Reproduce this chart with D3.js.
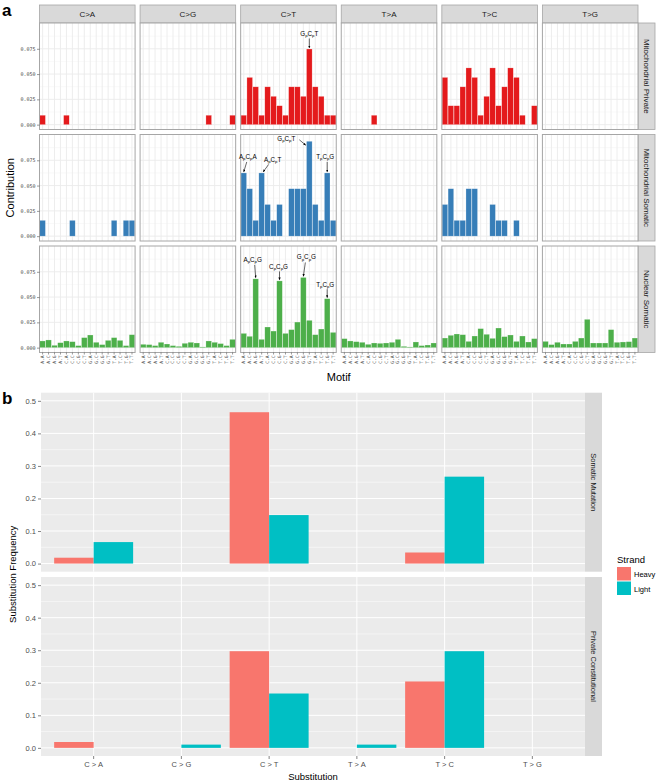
<!DOCTYPE html>
<html>
<head>
<meta charset="utf-8">
<script src="https://cdn.jsdelivr.net/npm/d3@7"></script>
<style>
  body { margin: 0; background: #fff; }
  svg { display: block; }
</style>
</head>
<body>
<div id="chart"></div>
<script>
// ---- panel a data ----
const substitutions = ["C>A", "C>G", "C>T", "T>A", "T>C", "T>G"];
const motifs = ["A.A", "A.C", "A.G", "A.T", "C.A", "C.C", "C.G", "C.T",
                "G.A", "G.C", "G.G", "G.T", "T.A", "T.C", "T.G", "T.T"];
const rowNames = ["Mitochondrial Private", "Mitochondrial Somatic", "Nuclear Somatic"];
const contribTicks = [0, 0.025, 0.05, 0.075];

// one row of 16 motif values per substitution, order as in `substitutions`
const mitoPrivate = [
  [0.0093, 0, 0, 0, 0.0093, 0, 0, 0, 0, 0, 0, 0, 0, 0, 0, 0],
  [0, 0, 0, 0, 0, 0, 0, 0, 0, 0, 0, 0.0093, 0, 0, 0, 0.0093],
  [0.0093, 0.0467, 0.0374, 0.0093, 0.0374, 0.028, 0.0187, 0.0093, 0.0374, 0.0374, 0.028, 0.0748, 0.0374, 0.028, 0.0093, 0.0093],
  [0, 0, 0, 0, 0, 0.0093, 0, 0, 0, 0, 0, 0, 0, 0, 0, 0],
  [0.0467, 0.0187, 0.0187, 0.0374, 0.0561, 0.0467, 0.0093, 0.028, 0.0561, 0.0187, 0.0374, 0.0561, 0.0467, 0.0093, 0, 0.0187],
  [0, 0, 0, 0, 0, 0, 0, 0, 0, 0, 0, 0, 0, 0, 0, 0]
];
const mitoSomatic = [
  [0.0156, 0, 0, 0, 0, 0.0156, 0, 0, 0, 0, 0, 0, 0.0156, 0, 0.0156, 0.0156],
  [0, 0, 0, 0, 0, 0, 0, 0, 0, 0, 0, 0, 0, 0, 0, 0],
  [0.0625, 0.0469, 0.0156, 0.0625, 0.0313, 0.0156, 0.0313, 0, 0.0469, 0.0469, 0.0469, 0.0938, 0.0313, 0.0156, 0.0625, 0.0156],
  [0, 0, 0, 0, 0, 0, 0, 0, 0, 0, 0, 0, 0, 0, 0, 0],
  [0.0313, 0.0469, 0.0156, 0.0156, 0.0469, 0.0469, 0, 0, 0.0313, 0.0156, 0.0156, 0, 0.0156, 0, 0, 0],
  [0, 0, 0, 0, 0, 0, 0, 0, 0, 0, 0, 0, 0, 0, 0, 0]
];
const nuclearSomatic = [
  [0.0066, 0.0076, 0.0023, 0.0049, 0.0066, 0.0059, 0.002, 0.0099, 0.0125, 0.0053, 0.003, 0.0072, 0.0099, 0.0072, 0.002, 0.0128],
  [0.0033, 0.003, 0.002, 0.0053, 0.0036, 0.002, 0.0013, 0.0043, 0.0053, 0.0046, 0.0007, 0.0066, 0.0053, 0.004, 0.002, 0.0082],
  [0.0141, 0.0112, 0.068, 0.0082, 0.0204, 0.0164, 0.066, 0.0141, 0.0178, 0.0253, 0.0694, 0.027, 0.0128, 0.0184, 0.0484, 0.0151],
  [0.0089, 0.0066, 0.0059, 0.0053, 0.0033, 0.0046, 0.0043, 0.0046, 0.0053, 0.0082, 0.0013, 0.0007, 0.0056, 0.002, 0.0026, 0.0046],
  [0.0095, 0.0122, 0.0135, 0.0128, 0.0062, 0.0115, 0.0188, 0.0132, 0.0092, 0.0194, 0.0109, 0.0125, 0.0062, 0.0115, 0.0056, 0.0089],
  [0.0062, 0.003, 0.0053, 0.0036, 0.0036, 0.0062, 0.0095, 0.028, 0.0046, 0.0046, 0.0046, 0.0178, 0.0053, 0.0056, 0.0059, 0.0095]
];
const rowData = [mitoPrivate, mitoSomatic, nuclearSomatic];

// labelled peaks: row index, substitution, motif, bases of the trinucleotide
const annotations = [
  { row: 0, sub: "C>T", motif: "G.T", bases: ["G", "C", "T"] },
  { row: 1, sub: "C>T", motif: "A.A", bases: ["A", "C", "A"] },
  { row: 1, sub: "C>T", motif: "A.T", bases: ["A", "C", "T"] },
  { row: 1, sub: "C>T", motif: "G.T", bases: ["G", "C", "T"] },
  { row: 1, sub: "C>T", motif: "T.G", bases: ["T", "C", "G"] },
  { row: 2, sub: "C>T", motif: "A.G", bases: ["A", "C", "G"] },
  { row: 2, sub: "C>T", motif: "C.G", bases: ["C", "C", "G"] },
  { row: 2, sub: "C>T", motif: "G.G", bases: ["G", "C", "G"] },
  { row: 2, sub: "C>T", motif: "T.G", bases: ["T", "C", "G"] }
];

// ---- panel b data ----
const substLabels = ["C > A", "C > G", "C > T", "T > A", "T > C", "T > G"];
const strands = ["Heavy", "Light"];
const bFacets = ["Somatic Mutation", "Private Constitutional"];
const somaticHeavy = [0.018, 0, 0.465, 0, 0.034, 0];
const somaticLight = [0.066, 0, 0.149, 0, 0.267, 0];
const privateHeavy = [0.018, 0, 0.297, 0, 0.204, 0];
const privateLight = [0, 0.010, 0.167, 0.010, 0.297, 0];
const freqTicks = [0, 0.1, 0.2, 0.3, 0.4, 0.5];
const freqMinor = [0.05, 0.15, 0.25, 0.35, 0.45];

// ---- styling ----
const rowColors = ["#E41A1C", "#377EB8", "#4DAF4A"];
const strandColors = ["#F8766D", "#00BFC4"];
const font = "'Liberation Sans', Arial, sans-serif";

const W = 660, H = 784;
const svg = d3.select("#chart").append("svg")
  .attr("width", W).attr("height", H)
  .style("font-family", font);

svg.append("defs").append("marker")
  .attr("id", "arr")
  .attr("viewBox", "0 0 10 10")
  .attr("refX", 10).attr("refY", 5)
  .attr("markerWidth", 4).attr("markerHeight", 4)
  .attr("orient", "auto")
  .append("path").attr("d", "M0,0L10,5L0,10z").attr("fill", "#000");

// =============== panel a ===============
const aLeft = 39.5, aRight = 638, aGap = 5;
const colW = (aRight - aLeft - aGap * 5) / 6;
const stripTop = 5, stripH = 18;
const rowTop0 = stripTop + stripH, rowH = 106.5, rowGap = 5;

const colX = i => aLeft + i * (colW + aGap);
const rowY = r => rowTop0 + r * (rowH + rowGap);

const ya = d3.scaleLinear().domain([-0.0048, 0.1005]);

const a = svg.append("g");

svg.append("text").attr("x", 2).attr("y", 16)
  .attr("font-size", 17).attr("font-weight", "bold").text("a");

// top strips
substitutions.forEach((s, i) => {
  a.append("rect")
    .attr("x", colX(i)).attr("y", stripTop)
    .attr("width", colW).attr("height", stripH)
    .attr("fill", "#D9D9D9").attr("stroke", "#A6A6A6").attr("stroke-width", 0.8);
  a.append("text")
    .attr("x", colX(i) + colW / 2).attr("y", stripTop + stripH / 2 + 3)
    .attr("text-anchor", "middle").attr("font-size", 8).attr("fill", "#1A1A1A")
    .text(s);
});

rowNames.forEach((name, r) => {
  const top = rowY(r), bottom = top + rowH;
  ya.range([bottom, top]);

  // right strip
  a.append("rect")
    .attr("x", aRight).attr("y", top)
    .attr("width", 17).attr("height", rowH)
    .attr("fill", "#D9D9D9").attr("stroke", "#A6A6A6").attr("stroke-width", 0.8);
  a.append("text")
    .attr("transform", `translate(${aRight + 6},${top + rowH / 2}) rotate(90)`)
    .attr("text-anchor", "middle").attr("font-size", 8).attr("fill", "#1A1A1A")
    .text(name);

  substitutions.forEach((s, i) => {
    const x0 = colX(i);
    const xb = d3.scaleBand().domain(motifs)
      .range([x0, x0 + colW]).paddingInner(0.06).paddingOuter(0.05);
    const g = a.append("g");

    g.append("rect")
      .attr("x", x0).attr("y", top).attr("width", colW).attr("height", rowH)
      .attr("fill", "#fff");

    // minor + major horizontal grid
    const minor = [0.0125, 0.0375, 0.0625, 0.0875];
    g.selectAll(".hmin").data(minor).enter().append("line")
      .attr("x1", x0).attr("x2", x0 + colW)
      .attr("y1", d => ya(d)).attr("y2", d => ya(d))
      .attr("stroke", "#F2F2F2").attr("stroke-width", 0.5);
    g.selectAll(".hmaj").data(contribTicks).enter().append("line")
      .attr("x1", x0).attr("x2", x0 + colW)
      .attr("y1", d => ya(d)).attr("y2", d => ya(d))
      .attr("stroke", "#EBEBEB").attr("stroke-width", 0.9);
    g.selectAll(".vmaj").data(motifs).enter().append("line")
      .attr("x1", d => xb(d) + xb.bandwidth() / 2).attr("x2", d => xb(d) + xb.bandwidth() / 2)
      .attr("y1", top).attr("y2", bottom)
      .attr("stroke", "#EBEBEB").attr("stroke-width", 0.9);

    const vals = rowData[r][i].map((v, k) => ({ motif: motifs[k], v })).filter(d => d.v > 0);
    g.selectAll(".bar").data(vals).enter().append("rect")
      .attr("x", d => xb(d.motif))
      .attr("width", xb.bandwidth())
      .attr("y", d => ya(d.v))
      .attr("height", d => ya(0) - ya(d.v))
      .attr("fill", rowColors[r])
      .attr("stroke", "#ffffff").attr("stroke-opacity", 0.45).attr("stroke-width", 0.5);

    g.append("rect")
      .attr("x", x0).attr("y", top).attr("width", colW).attr("height", rowH)
      .attr("fill", "none").attr("stroke", "#A6A6A6").attr("stroke-width", 1);

    // x axis on the bottom row
    if (r === rowNames.length - 1) {
      const ax = g.append("g").attr("transform", `translate(0,${bottom})`)
        .call(d3.axisBottom(xb).tickSize(2).tickPadding(1));
      ax.select(".domain").remove();
      ax.selectAll(".tick line").attr("stroke", "#333").attr("stroke-width", 0.5);
      ax.selectAll(".tick text")
        .attr("transform", "rotate(-90)")
        .attr("x", -3).attr("y", 0).attr("dy", "0.32em")
        .attr("text-anchor", "end")
        .attr("font-size", 4.6).attr("fill", "#4D4D4D")
        .attr("font-family", "'DejaVu Sans Mono', monospace");
    }
  });

  // y axis on the left column
  const ay = a.append("g").attr("transform", `translate(${aLeft},0)`)
    .call(d3.axisLeft(ya).tickValues(contribTicks).tickFormat(d3.format(".3f")).tickSize(2.5).tickPadding(1.5));
  ay.select(".domain").remove();
  ay.selectAll(".tick line").attr("stroke", "#333").attr("stroke-width", 0.5);
  ay.selectAll(".tick text").attr("font-size", 5).attr("fill", "#4D4D4D")
    .attr("font-family", "'DejaVu Sans Mono', monospace");
});

// annotation placement: label centre/baseline and arrow ends, relative to bar top centre
const annotationOffsets = [
  { lx: 0, ly: -13, a: [0, -10.5, 0, -1] },
  { lx: 4, ly: -14, a: [3, -11, 0, -1] },
  { lx: 11, ly: -11, a: [7, -8.5, 1.5, -1] },
  { lx: -23, ly: 0, a: [-10, -1.5, -3.5, 4] },
  { lx: -2, ly: -14, a: [0, -11, 0, -1] },
  { lx: -3, ly: -17, a: [-1, -14, 0, -1] },
  { lx: -1, ly: -12, a: [0, -9.5, 0, -1] },
  { lx: 3, ly: -18, a: [2, -15, 0, -1] },
  { lx: -2, ly: -12, a: [0, -9.5, 0, -1] }
];

annotations.forEach((an, k) => {
  const i = substitutions.indexOf(an.sub);
  const x0 = colX(i);
  const xb = d3.scaleBand().domain(motifs)
    .range([x0, x0 + colW]).paddingInner(0.06).paddingOuter(0.05);
  const top = rowY(an.row);
  ya.range([top + rowH, top]);
  const v = rowData[an.row][i][motifs.indexOf(an.motif)];
  const bx = xb(an.motif) + xb.bandwidth() / 2, by = ya(v);
  const o = annotationOffsets[k];

  const t = a.append("text")
    .attr("x", bx + o.lx).attr("y", by + o.ly)
    .attr("text-anchor", "middle").attr("font-size", 6.3).attr("fill", "#000");
  an.bases.forEach((b, j) => {
    t.append("tspan").attr("dy", j === 0 ? 0 : -1.2).text(b);
    if (j < 2) t.append("tspan").attr("dy", 1.2).attr("font-size", 4.3).text("p");
  });

  a.append("line")
    .attr("x1", bx + o.a[0]).attr("y1", by + o.a[1])
    .attr("x2", bx + o.a[2]).attr("y2", by + o.a[3])
    .attr("stroke", "#000").attr("stroke-width", 0.6)
    .attr("marker-end", "url(#arr)");
});

svg.append("text")
  .attr("transform", `translate(14,${rowY(1) + rowH / 2}) rotate(-90)`)
  .attr("text-anchor", "middle").attr("font-size", 11).attr("fill", "#000")
  .text("Contribution");
svg.append("text")
  .attr("x", (aLeft + aRight) / 2).attr("y", 381)
  .attr("text-anchor", "middle").attr("font-size", 11).attr("fill", "#000")
  .text("Motif");

// =============== panel b ===============
const bLeft = 41, bRight = 585;
const bTops = [392.7, 577];
const bH = 179;
const bSeries = [[somaticHeavy, somaticLight], [privateHeavy, privateLight]];

svg.append("text").attr("x", 2).attr("y", 404)
  .attr("font-size", 17).attr("font-weight", "bold").text("b");

const xs = d3.scaleBand().domain(substLabels).range([bLeft, bRight])
  .paddingInner(0.1).paddingOuter(0.15);
const xStrand = d3.scaleBand().domain(strands).range([0, xs.bandwidth()]);
const yb = d3.scaleLinear().domain([-0.025, 0.525]);

const b = svg.append("g");

bFacets.forEach((name, f) => {
  const top = bTops[f], bottom = top + bH;
  yb.range([bottom, top]);
  const g = b.append("g");

  g.append("rect").attr("x", bLeft).attr("y", top)
    .attr("width", bRight - bLeft).attr("height", bH).attr("fill", "#EBEBEB");

  g.selectAll(".min").data(freqMinor).enter().append("line")
    .attr("x1", bLeft).attr("x2", bRight)
    .attr("y1", d => yb(d)).attr("y2", d => yb(d))
    .attr("stroke", "#fff").attr("stroke-width", 0.5);
  g.selectAll(".maj").data(freqTicks).enter().append("line")
    .attr("x1", bLeft).attr("x2", bRight)
    .attr("y1", d => yb(d)).attr("y2", d => yb(d))
    .attr("stroke", "#fff").attr("stroke-width", 1);
  g.selectAll(".vg").data(substLabels).enter().append("line")
    .attr("x1", d => xs(d) + xs.bandwidth() / 2).attr("x2", d => xs(d) + xs.bandwidth() / 2)
    .attr("y1", top).attr("y2", bottom)
    .attr("stroke", "#fff").attr("stroke-width", 1);

  const bars = [];
  strands.forEach((st, s) => {
    bSeries[f][s].forEach((v, k) => {
      if (v > 0) bars.push({ sub: substLabels[k], strand: st, v, c: strandColors[s] });
    });
  });
  g.selectAll(".bbar").data(bars).enter().append("rect")
    .attr("x", d => xs(d.sub) + xStrand(d.strand))
    .attr("width", xStrand.bandwidth())
    .attr("y", d => yb(d.v))
    .attr("height", d => yb(0) - yb(d.v))
    .attr("fill", d => d.c);

  // strip
  g.append("rect").attr("x", bRight).attr("y", top)
    .attr("width", 17).attr("height", bH).attr("fill", "#D9D9D9");
  g.append("text")
    .attr("transform", `translate(${bRight + 5.5},${top + bH / 2}) rotate(90)`)
    .attr("text-anchor", "middle").attr("font-size", 7.5).attr("fill", "#1A1A1A")
    .text(name);

  const ay = g.append("g").attr("transform", `translate(${bLeft},0)`)
    .call(d3.axisLeft(yb).tickValues(freqTicks).tickFormat(d3.format(".1f")).tickSize(3).tickPadding(2));
  ay.select(".domain").remove();
  ay.selectAll(".tick line").attr("stroke", "#333").attr("stroke-width", 0.6);
  ay.selectAll(".tick text").attr("font-size", 7.5).attr("fill", "#4D4D4D").attr("font-family", font);

  if (f === bFacets.length - 1) {
    const ax = g.append("g").attr("transform", `translate(0,${bottom})`)
      .call(d3.axisBottom(xs).tickSize(3).tickPadding(3));
    ax.select(".domain").remove();
    ax.selectAll(".tick line").attr("stroke", "#333").attr("stroke-width", 0.6);
    ax.selectAll(".tick text").attr("font-size", 7.5).attr("fill", "#4D4D4D").attr("font-family", font);
  }
});

svg.append("text")
  .attr("x", (bLeft + bRight) / 2).attr("y", 780)
  .attr("text-anchor", "middle").attr("font-size", 9.5).attr("fill", "#000")
  .text("Substitution");
svg.append("text")
  .attr("transform", `translate(16,${(bTops[0] + bTops[1] + bH) / 2}) rotate(-90)`)
  .attr("text-anchor", "middle").attr("font-size", 9.5).attr("fill", "#000")
  .text("Substitution Frequency");

// legend
const lg = svg.append("g").attr("transform", "translate(617,555)");
lg.append("text").attr("x", 0).attr("y", 8).attr("font-size", 9.5).attr("fill", "#000").text("Strand");
strands.forEach((st, s) => {
  lg.append("rect").attr("x", 0).attr("y", 12 + s * 14.5)
    .attr("width", 14).attr("height", 13.5).attr("fill", strandColors[s]);
  lg.append("text").attr("x", 17).attr("y", 22 + s * 14.5)
    .attr("font-size", 7.5).attr("fill", "#000").text(st);
});
</script>
</body>
</html>
